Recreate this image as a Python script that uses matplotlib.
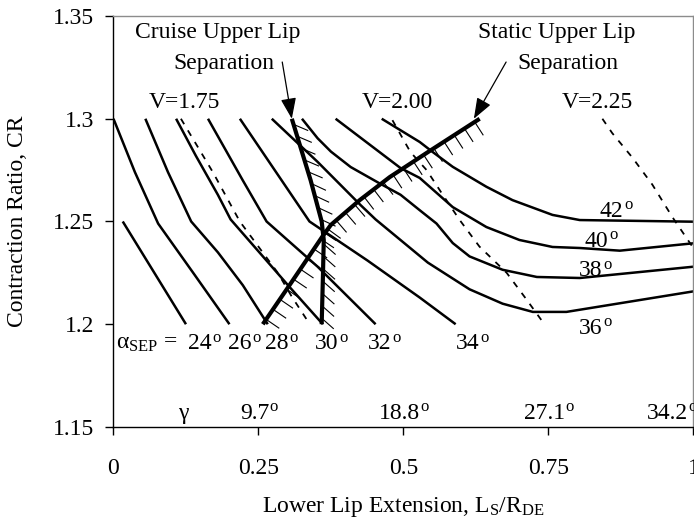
"""Separation contours: contraction ratio against lower lip extension."""

import matplotlib

matplotlib.use("Agg")

import matplotlib.pyplot as plt
from matplotlib import patheffects

plt.rcParams["font.family"] = ["Liberation Serif", "DejaVu Serif"]
plt.rcParams["mathtext.fontset"] = "custom"
plt.rcParams["mathtext.rm"] = "Liberation Serif"
plt.rcParams["mathtext.it"] = "Liberation Serif:italic"
plt.rcParams["font.size"] = 17

# constant alpha_SEP contours (L_S/R_DE, CR)
SEP24_X = [0.016, 0.125]
SEP24_Y = [1.25, 1.20]
SEP26_X = [0.0, 0.037, 0.077, 0.140, 0.200]
SEP26_Y = [1.30, 1.274, 1.249, 1.224, 1.20]
SEP28_X = [0.055, 0.094, 0.134, 0.180, 0.223, 0.266]
SEP28_Y = [1.30, 1.274, 1.250, 1.235, 1.219, 1.20]
SEP30_X = [0.108, 0.142, 0.180, 0.202, 0.304, 0.361]
SEP30_Y = [1.30, 1.282, 1.263, 1.251, 1.218, 1.20]
SEP32_X = [0.163, 0.223, 0.264, 0.352, 0.452]
SEP32_Y = [1.30, 1.270, 1.250, 1.228, 1.20]
SEP34_X = [0.218, 0.290, 0.338, 0.438, 0.528, 0.590]
SEP34_Y = [1.30, 1.270, 1.250, 1.231, 1.213, 1.20]
SEP36_X = [0.273, 0.352, 0.426, 0.452, 0.542, 0.614, 0.671, 0.723, 0.781, 1.0]
SEP36_Y = [1.30, 1.279, 1.258, 1.251, 1.230, 1.217, 1.210, 1.206, 1.206, 1.216]
SEP38_X = [0.325, 0.352, 0.375, 0.409, 0.456, 0.495, 0.528, 0.557, 0.585,
           0.614, 0.671, 0.730, 0.804, 1.0]
SEP38_Y = [1.30, 1.2905, 1.284, 1.2765, 1.269, 1.263, 1.2555, 1.249, 1.2395,
           1.233, 1.2265, 1.223, 1.2225, 1.228]
SEP40_X = [0.383, 0.495, 0.528, 0.585, 0.643, 0.700, 0.757, 0.804, 0.873, 1.0]
SEP40_Y = [1.30, 1.276, 1.2712, 1.257, 1.2473, 1.241, 1.2376, 1.2371, 1.2358,
           1.2394]
SEP42_X = [0.4625, 0.528, 0.550, 0.585, 0.643, 0.688, 0.757, 0.804, 1.0]
SEP42_Y = [1.30, 1.2887, 1.2839, 1.2766, 1.2669, 1.2604, 1.2532, 1.2507, 1.2499]

# constant V lines (dashed)
V175_X = [0.1163, 0.1714, 0.2179, 0.2834, 0.3075, 0.3385]
V175_Y = [1.30, 1.274, 1.25, 1.225, 1.2134, 1.20]
V200_X = [0.481, 0.512, 0.540, 0.568, 0.597, 0.631, 0.678, 0.712, 0.743]
V200_Y = [1.2993, 1.2838, 1.275, 1.2629, 1.2507, 1.2378, 1.225, 1.2121, 1.20]
V225_X = [0.843, 0.860, 0.895, 0.929, 0.964, 1.0]
V225_Y = [1.30, 1.293, 1.281, 1.268, 1.252, 1.237]

# upper lip separation boundaries
CRUISE_X = [0.3075, 0.340, 0.359, 0.3626, 0.361, 0.359]
CRUISE_Y = [1.30, 1.270, 1.250, 1.241, 1.2216, 1.20]
STATIC_X = [0.2575, 0.304, 0.361, 0.3747, 0.4246, 0.4763, 0.5418, 0.6314]
STATIC_Y = [1.20, 1.2192, 1.243, 1.2483, 1.2604, 1.2716, 1.2837, 1.30]

BOTTOM_ANGLES = [24, 26, 28, 30, 32, 34]
RIGHT_ANGLES = [42, 40, 38, 36]
GAMMA_LABELS = ["9.7", "18.8", "27.1", "34.2"]
V_LABELS = ["V=1.75", "V=2.00", "V=2.25"]

X_TICKS = [0, 0.25, 0.5, 0.75, 1.0]
X_TICK_LABELS = ["0", "0.25", "0.5", "0.75", "1"]
Y_TICKS = [1.15, 1.2, 1.25, 1.3, 1.35]
Y_TICK_LABELS = ["1.15", "1.2", "1.25", "1.3", "1.35"]


def degree_label(ax, x, y, value):
    """Number followed by a raised small 'o' (the drawing's degree mark)."""
    num = ax.text(x - 0.007, y, str(value), ha="center", va="baseline")
    # bbox bottom sits one font descent below the baseline
    ax.annotate("o", xy=(1, 0), xycoords=num, xytext=(0.4, 9.0),
                textcoords="offset points", fontsize=12, ha="left",
                va="baseline")
    return num


fig = plt.figure(figsize=(6.94, 5.23), dpi=100)
ax = fig.add_axes([0.1635, 0.1836, 0.8357, 0.7858])
ax.set_xlim(0, 1)
ax.set_ylim(1.15, 1.35)

contours = [
    (SEP24_X, SEP24_Y), (SEP26_X, SEP26_Y), (SEP28_X, SEP28_Y),
    (SEP30_X, SEP30_Y), (SEP32_X, SEP32_Y), (SEP34_X, SEP34_Y),
    (SEP36_X, SEP36_Y), (SEP38_X, SEP38_Y), (SEP40_X, SEP40_Y),
    (SEP42_X, SEP42_Y),
]
for xs, ys in contours:
    ax.plot(xs, ys, color="black", lw=1.8, solid_joinstyle="round",
            solid_capstyle="butt")

for xs, ys in [(V175_X, V175_Y), (V200_X, V200_Y), (V225_X, V225_Y)]:
    ax.plot(xs, ys, color="black", lw=1.3, linestyle=(0, (3.5, 4)))

# hatching on the flow side of each separation boundary
ax.plot(STATIC_X, STATIC_Y, color="black", lw=0.8,
        path_effects=[patheffects.TickedStroke(angle=-90, spacing=8.5,
                                               length=1.3, linewidth=0.8)])
ax.plot(CRUISE_X, CRUISE_Y, color="black", lw=0.8,
        path_effects=[patheffects.TickedStroke(angle=50, spacing=8.5,
                                               length=1.3, linewidth=0.8)])
ax.plot(STATIC_X, STATIC_Y, color="black", lw=3.0, solid_capstyle="butt")
ax.plot(CRUISE_X, CRUISE_Y, color="black", lw=3.0, solid_capstyle="butt")

arrow = dict(arrowstyle="-|>,head_length=0.75,head_width=0.28", color="black",
             lw=0.9, shrinkA=0, shrinkB=0)
ax.annotate("", xy=(CRUISE_X[0], CRUISE_Y[0]), xytext=(0.291, 1.3276),
            arrowprops=arrow)
ax.annotate("", xy=(STATIC_X[-1] - 0.01, STATIC_Y[-1]), xytext=(0.677, 1.3276),
            arrowprops=arrow)

ax.text(0.179, 1.3421, "Cruise Upper Lip", ha="center", va="center")
ax.text(0.190, 1.3268, "Separation", ha="center", va="center")
ax.text(0.765, 1.3421, "Static Upper Lip", ha="center", va="center")
ax.text(0.783, 1.3268, "Separation", ha="center", va="center")

for label, x in zip(V_LABELS, [0.123, 0.490, 0.834]):
    ax.text(x, 1.3078, label, ha="center", va="center")

ax.text(0.005, 1.1879, "α$_{\\rm SEP}$ =", ha="left", va="baseline")
for angle, x in zip(BOTTOM_ANGLES, [0.156, 0.225, 0.289, 0.375, 0.466, 0.618]):
    degree_label(ax, x, 1.1879, angle)
for angle, x, y in zip(RIGHT_ANGLES, [0.866, 0.840, 0.830, 0.830],
                       [1.2524, 1.2378, 1.2233, 1.1953]):
    degree_label(ax, x, y, angle)

ax.text(0.121, 1.1541, "γ", ha="center", va="baseline")
for label, x in zip(GAMMA_LABELS, [0.25, 0.5, 0.75, 0.962]):
    degree_label(ax, x, 1.1541, label)

ax.set_xticks(X_TICKS)
ax.set_xticklabels(X_TICK_LABELS)
ax.set_yticks(Y_TICKS)
ax.set_yticklabels(Y_TICK_LABELS)
ax.tick_params(axis="x", direction="out", length=6, width=1, pad=16)
ax.tick_params(axis="y", direction="out", length=6, width=1, pad=8)

for side in ("top", "right"):
    ax.spines[side].set_color("#8c8c8c")
for side in ("left", "bottom"):
    ax.spines[side].set_color("black")
for spine in ax.spines.values():
    spine.set_linewidth(1.0)

ax.set_xlabel("Lower Lip Extension, L$_{\\rm S}$/R$_{\\rm DE}$", va="center")
ax.xaxis.set_label_coords(0.5, -0.195)
ax.set_ylabel("Contraction Ratio, CR", va="center")
ax.yaxis.set_label_coords(-0.165, 0.5)

fig.savefig("out.png", dpi=100)
